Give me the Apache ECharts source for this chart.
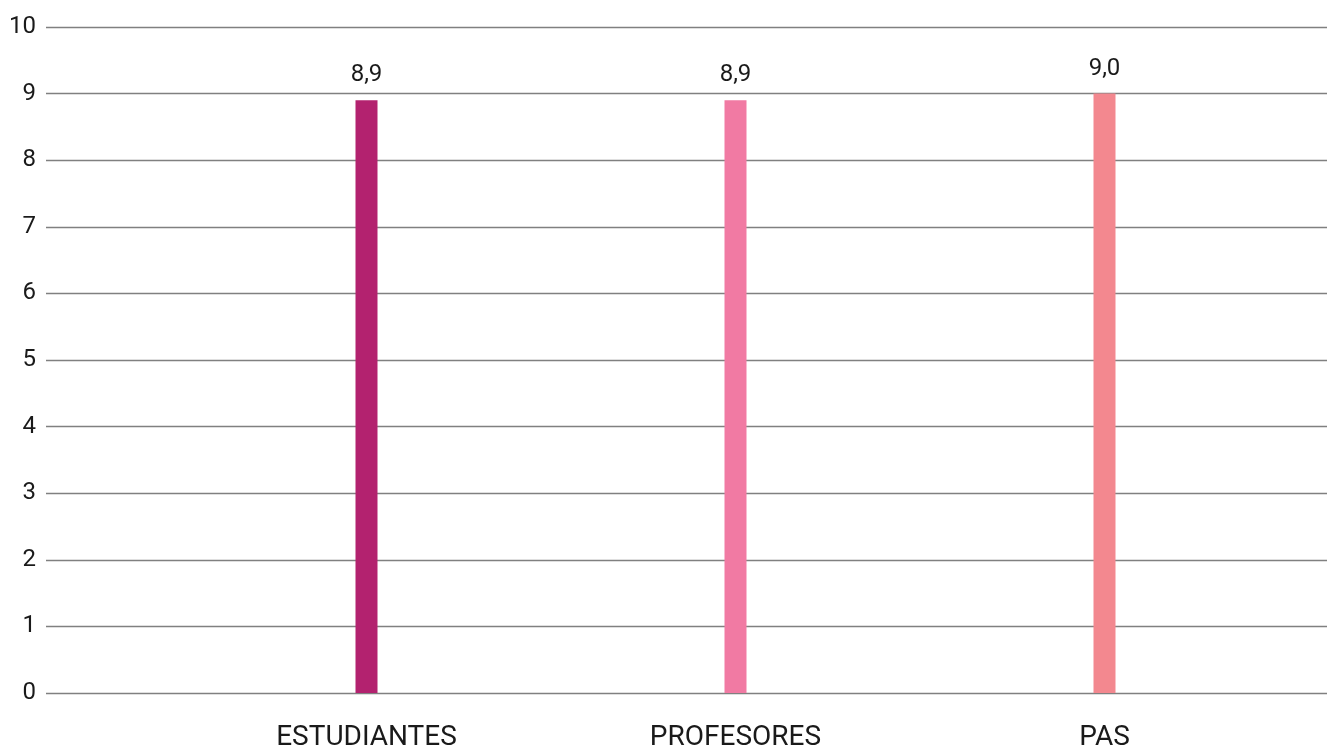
<!DOCTYPE html>
<html>
<head>
<meta charset="utf-8">
<script src="https://cdn.jsdelivr.net/npm/echarts@6/dist/echarts.min.js"></script>
<style>
html,body{margin:0;padding:0;background:#fff;}
#c{width:1327px;height:753px;}
</style>
</head>
<body>
<div id="c"></div>
<script>
var categories = ['ESTUDIANTES', 'PROFESORES', 'PAS'];
var values = [8.9, 8.9, 9.0];
var barColors = ['#B3226F', '#F17AA3', '#F3888F'];
var yTicks = [0, 1, 2, 3, 4, 5, 6, 7, 8, 9, 10];

var FONT = 'Roboto';
var chart = echarts.init(document.getElementById('c'), null, {renderer: 'canvas'});
chart.setOption({
  animation: false,
  backgroundColor: '#ffffff',
  grid: [
    {left: 46, right: 0, top: 27, height: 666},
    {left: 182, width: 1107, top: 27, height: 666}
  ],
  xAxis: [
    {gridIndex: 0, type: 'value', show: false, min: 0, max: 1},
    {gridIndex: 1, type: 'category', data: categories,
     axisLine: {show: false}, axisTick: {show: false},
     axisLabel: {color: '#1a1a1a', fontFamily: FONT, fontSize: 28, margin: 31}}
  ],
  yAxis: [
    {gridIndex: 0, type: 'value', min: yTicks[0], max: yTicks[yTicks.length - 1], interval: 1,
     axisLine: {show: false}, axisTick: {show: false},
     axisLabel: {color: '#1a1a1a', fontFamily: FONT, fontSize: 24, margin: 10},
     splitLine: {show: true, lineStyle: {color: '#808080', width: 1.3}}},
    {gridIndex: 1, type: 'value', min: yTicks[0], max: yTicks[yTicks.length - 1], show: false}
  ],
  series: [{
    type: 'bar',
    xAxisIndex: 1, yAxisIndex: 1,
    barWidth: 22,
    data: values.map(function (v, i) { return {value: v, itemStyle: {color: barColors[i]}}; }),
    label: {
      show: true, position: 'top', distance: 13,
      color: '#1a1a1a', fontFamily: FONT, fontSize: 24,
      formatter: function (p) { return p.value.toFixed(1).replace('.', ','); }
    }
  }]
});
</script>
</body>
</html>
